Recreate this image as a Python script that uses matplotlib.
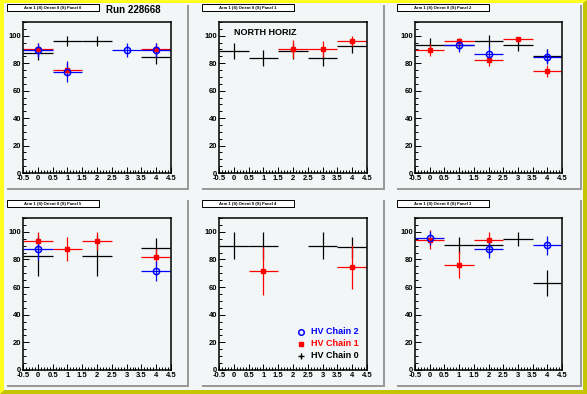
import numpy as np
import matplotlib
matplotlib.use('Agg')
import matplotlib.pyplot as plt
from matplotlib.patches import Rectangle, Polygon
from matplotlib.ticker import MultipleLocator

nan = np.nan
W, H = 587, 394

# bins 0..4, panels: top-left, top-mid, top-right, bottom-left, bottom-mid, bottom-right
xbins = [0, 1, 2, 3, 4]
panel_titles = ['Arm 1 (S) Orient 0 (S) Panel 0', 'Arm 1 (S) Orient 0 (S) Panel 1',
                'Arm 1 (S) Orient 0 (S) Panel 2', 'Arm 1 (S) Orient 0 (S) Panel 5',
                'Arm 1 (S) Orient 0 (S) Panel 4', 'Arm 1 (S) Orient 0 (S) Panel 3']

chain0_eff = [[87.4, 96.1, 96.1, nan, 84.5],
              [88.6, 83.8, 89.1, 83.8, 92.8],
              [93.5, 93.5, 96.1, 93.5, 85.0],
              [82.8, nan, 82.8, nan, 88.2],
              [89.9, 89.9, nan, 89.9, 88.9],
              [nan, 90.1, 90.1, 94.9, 62.8]]
chain0_err = [[5.3, 3.6, 3.6, nan, 5.4],
              [5.8, 6.0, 5.8, 6.0, 5.1],
              [4.5, 4.0, 4.2, 4.7, 5.0],
              [15.0, nan, 15.0, nan, 7.5],
              [9.7, 9.7, nan, 9.7, 7.7],
              [nan, 6.5, 6.5, 5.2, 9.3]]

chain1_eff = [[90.0, 75.3, nan, nan, 90.0],
              [nan, nan, 90.3, 90.3, 96.4],
              [89.6, 96.1, 82.4, 97.3, 74.4],
              [93.2, 87.7, 93.2, nan, 81.9],
              [nan, 71.5, nan, nan, 74.6],
              [94.4, 76.1, 94.2, nan, nan]]
chain1_err = [[5.0, 5.0, nan, nan, 5.0],
              [nan, nan, 6.3, 5.7, 3.6],
              [4.1, 2.5, 4.3, 2.0, 4.5],
              [6.5, 8.5, 6.5, nan, 6.0],
              [nan, 17.4, nan, nan, 16.0],
              [7.0, 9.7, 5.6, nan, nan]]

chain2_eff = [[89.6, 73.9, nan, 89.6, 89.6],
              [nan, nan, nan, nan, nan],
              [nan, 93.0, 86.7, nan, 84.8],
              [87.4, nan, nan, nan, 71.5],
              [nan, nan, nan, nan, nan],
              [95.4, nan, 87.7, nan, 90.1]]
chain2_err = [[5.2, 7.7, nan, 5.4, 5.0],
              [nan, nan, nan, nan, nan],
              [nan, 4.8, 5.6, nan, 5.4],
              [8.0, nan, nan, nan, 7.2],
              [nan, nan, nan, nan, nan],
              [5.0, nan, 6.4, nan, 6.8]]

leg_txt = ['HV Chain 2', 'HV Chain 1', 'HV Chain 0']
leg_col = ['blue', 'red', 'black']

plt.rcParams['font.family'] = ['Liberation Sans', 'DejaVu Sans']
fig = plt.figure(figsize=(W / 100, H / 100), dpi=100)
fig.patch.set_facecolor('#c4c400')

bg = fig.add_axes([0, 0, 1, 1])
bg.set_xlim(0, W)
bg.set_ylim(H, 0)
bg.axis('off')

# canvas bevel + inside
bg.add_patch(Polygon([(0, 0), (W, 0), (W - 4, 3), (4, 3), (4, H - 4), (0, H)], closed=True,
                     facecolor='#ffff20', edgecolor='none'))
bg.add_patch(Rectangle((4, 3), W - 8, H - 7, facecolor='#f3f6f6', edgecolor='none'))

pad_x = [(5, 187), (200, 383), (395, 580)]
pad_y = [(3, 188), (198, 385)]
ax_x = [(23, 171), (219, 367), (415, 562)]
ax_y = [(22, 173), (218, 370)]

elw = 0.9
for i in range(6):
    r, c = divmod(i, 3)
    x0, x1 = pad_x[c]
    y0, y1 = pad_y[r]
    bg.add_patch(Rectangle((x0 + 2, y0 + 2), x1 - x0, y1 - y0, facecolor='#9a9a9a', edgecolor='none'))
    bg.add_patch(Rectangle((x0, y0), x1 - x0, y1 - y0, facecolor='#f3f6f6', edgecolor='none'))
    # title box
    ty = y0 + 1 if r == 0 else y0 + 2
    bg.add_patch(Rectangle((x0 + 3, ty + 1), 92, 7, facecolor='black', edgecolor='none'))
    bg.add_patch(Rectangle((x0 + 2, ty), 92, 7, facecolor='white', edgecolor='black', linewidth=0.7))
    bg.text(x0 + 48, ty + 3.7, panel_titles[i], fontsize=3.0, fontweight='bold',
            ha='center', va='center')

    ax0, ax1 = ax_x[c]
    ay0, ay1 = ax_y[r]
    ax = fig.add_axes([ax0 / W, 1 - ay1 / H, (ax1 - ax0) / W, (ay1 - ay0) / H])
    ax.set_facecolor('#f3f6f6')
    ax.set_xlim(-0.5, 4.5)
    ax.set_ylim(0, 110)
    for s in ax.spines.values():
        s.set_linewidth(1.1)
    ax.xaxis.set_major_locator(MultipleLocator(0.5))
    ax.xaxis.set_minor_locator(MultipleLocator(0.1))
    ax.yaxis.set_major_locator(MultipleLocator(20))
    ax.yaxis.set_minor_locator(MultipleLocator(5))
    ax.tick_params(which='both', direction='in', top=False, right=False, width=0.7,
                   labelsize=5.5, pad=1.5)
    ax.tick_params(which='major', length=4)
    ax.tick_params(which='minor', length=2)
    ax.set_xticks(np.arange(-0.5, 4.51, 0.5))
    ax.set_xticklabels(['-0.5', '0', '0.5', '1', '1.5', '2', '2.5', '3', '3.5', '4', '4.5'])
    for lab in ax.get_xticklabels() + ax.get_yticklabels():
        lab.set_fontweight('bold')

    ax.errorbar(xbins, chain0_eff[i], xerr=0.5, yerr=chain0_err[i], fmt='none',
                ecolor='black', elinewidth=elw, capsize=0)
    ax.errorbar(xbins, chain1_eff[i], xerr=0.5, yerr=chain1_err[i], fmt='s', color='red',
                ms=3, elinewidth=elw, capsize=0)
    ax.errorbar(xbins, chain2_eff[i], xerr=0.5, yerr=chain2_err[i], fmt='o', color='blue',
                mfc='none', ms=4.5, mew=1.1, elinewidth=elw, capsize=0)

    if i == 1:
        ax.text(0.1, 0.93, 'NORTH HORIZ', transform=ax.transAxes, fontsize=6.5,
                fontweight='bold', va='center')

# overlay for texts drawn over the pads
top = fig.add_axes([0, 0, 1, 1])
top.set_xlim(0, W)
top.set_ylim(H, 0)
top.axis('off')
top.patch.set_alpha(0)
top.text(106, 9.5, 'Run 228668', fontsize=7, fontweight='bold', va='center')
leg_y = [332, 344, 356]
top.plot(301, leg_y[0], 'o', color='blue', mfc='none', ms=4, mew=1.1)
top.plot(301, leg_y[1], 's', color='red', ms=3)
top.plot(301, leg_y[2], '+', color='black', ms=5, mew=1)
for t, col, yy in zip(leg_txt, leg_col, leg_y):
    top.text(311, yy, t, color=col, fontsize=6.5, fontweight='bold', va='center')

fig.savefig('out.png', dpi=100, facecolor=fig.get_facecolor())
